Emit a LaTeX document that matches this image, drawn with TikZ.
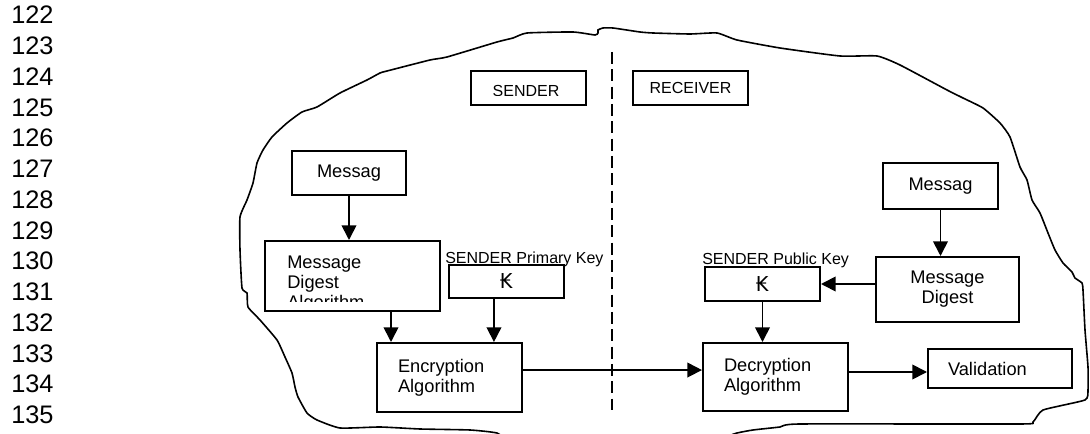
\documentclass[tikz,border=0pt]{standalone}
\usepackage{fontspec}
\setmainfont{Liberation Sans}
\newfontfamily\keyfont{DejaVu Sans}
\usetikzlibrary{arrows.meta,calc}

\begin{document}
\begin{tikzpicture}[x=0.75pt,y=-0.75pt]

\tikzset{box/.style = {draw,line width=1.5pt,inner sep=0pt,font=\fontsize{13.7}{15}\selectfont}}
\tikzset{txt/.style = {inner sep=0pt,font=\fontsize{13.7}{15}\selectfont}}
\tikzset{hdr/.style = {inner sep=0pt,font=\fontsize{12}{14}\selectfont}}
\tikzset{keysym/.style = {font=\keyfont\fontsize{15.4}{16}\selectfont}}
\tikzset{arr/.style = {-{Triangle[length=11pt,width=11pt]},line width=1.3pt}}
\tikzset{lineno/.style = {anchor=west,inner sep=0pt,font=\fontsize{19}{20}\selectfont}}

\useasboundingbox (0,0) rectangle (1090,434);

%line numbers
\foreach \n in {122,...,135}
  \node[lineno] (ln\n) at (11,{15+30.77*(\n-122)}) {\n};

%outline
\draw[line width=1.2pt] plot[smooth cycle,tension=0.3] coordinates {
  (603,28) (613,28) (640,32) (653,33) (690,34) (717,33) (737,40) (780,48)
  (840,56) (877,56) (900,65) (947,90) (963,98) (983,108) (1000,123)
  (1010,137) (1020,167) (1027,180) (1032,200) (1040,213) (1048,233)
  (1055,250) (1063,263) (1072,272) (1075,278) (1082,283) (1083,290)
  (1085,330) (1088,367) (1088,390) (1085,400) (1043,410) (1033,422)
  (1020,424) (800,424) (780,427) (753,430) (737,433) (700,442) (520,442)
  (497,433) (470,430) (420,429) (380,427) (340,428) (317,420) (307,413)
  (298,397) (295,387) (292,373) (285,357) (277,340) (260,320) (248,307)
  (247,293) (242,288) (240,250) (240,217) (247,200) (253,183) (257,163)
  (263,150) (272,137) (287,123) (302,112) (317,107) (340,93) (367,80)
  (380,73) (387,71) (430,60) (447,57) (497,42) (513,38) (527,33) (573,32)
  (595,35) (598,33) (598,30)};

%divider
\coordinate (divtop) at (612,52);
\coordinate (divbot) at (612,410);
\draw[line width=1.1pt,dash pattern=on 9pt off 4pt] (divtop) -- (divbot);

%headers
\node[box,minimum width=86.25pt,minimum height=25.5pt] (hdrS) at (528.5,88) {};
\begin{scope}
\clip (471,71) rectangle (586,95.5);
\node[hdr,anchor=base] (hdrStext) at (526,97) {SENDER};
\end{scope}
\node[box,hdr,minimum width=86.25pt,minimum height=25.5pt] (hdrR) at (690.5,88) {RECEIVER};

%sender
\node[box,minimum width=85.5pt,minimum height=33pt] (msgS) at (349,173) {Messag};
\node[box,minimum width=131.25pt,minimum height=52.5pt] (mdS) at (352.5,276) {};
\begin{scope}
\clip (265,241) rectangle (440,302);
\node[txt,anchor=north west,align=left] (mdStext) at (287,256) {Message\\Digest\\Algorithm};
\end{scope}
\node[box,keysym,minimum width=86.25pt,minimum height=24.75pt] (kS) at (506.5,281.5) {₭};
\node[hdr,anchor=base west] (kSlbl) at (445,264) {SENDER Primary Key};
\node[box,minimum width=108.75pt,minimum height=51.75pt,text width=77.25pt,align=left] (enc) at (449.5,377.5) {Encryption\\Algorithm};

%receiver
\node[box,minimum width=86.25pt,minimum height=34.5pt] (msgR) at (940.5,186) {Messag};
\node[box,minimum width=107.25pt,minimum height=48.75pt,align=center] (mdR) at (947.5,289.5) {Message\\Digest};
\node[box,keysym,minimum width=86.25pt,minimum height=25.5pt] (kR) at (762.5,284) {₭};
\node[hdr,anchor=base west] (kRlbl) at (702,265) {SENDER Public Key};
\node[box,minimum width=108.75pt,minimum height=51pt,text width=77.25pt,align=left] (dec) at (775.5,377) {Decryption\\Algorithm};
\node[box,minimum width=108pt,minimum height=29.25pt,text width=78pt,align=left] (val) at (1000,368.5) {Validation};

%arrows
\draw[arr] (msgS) -- (msgS |- mdS.north);
\coordinate (encin) at ($(enc.north west)+(15,0)$);
\draw[arr] (mdS.south -| encin) -- (encin);
\draw[arr] ([xshift=-9.4pt]kS.south) -- ([xshift=-9.4pt]kS.south |- enc.north);
\draw[arr] ([yshift=5.6pt]enc.east) -- ([yshift=5.6pt]enc.east -| dec.west);
\draw[arr] (msgR) -- (msgR |- mdR.north);
\draw[arr] (mdR.west |- kR.east) -- (kR.east);
\draw[arr] (kR) -- (kR |- dec.north);
\draw[arr] ([yshift=3.75pt]dec.east) -- ([yshift=3.75pt]dec.east -| val.west);

\end{tikzpicture}
\end{document}
